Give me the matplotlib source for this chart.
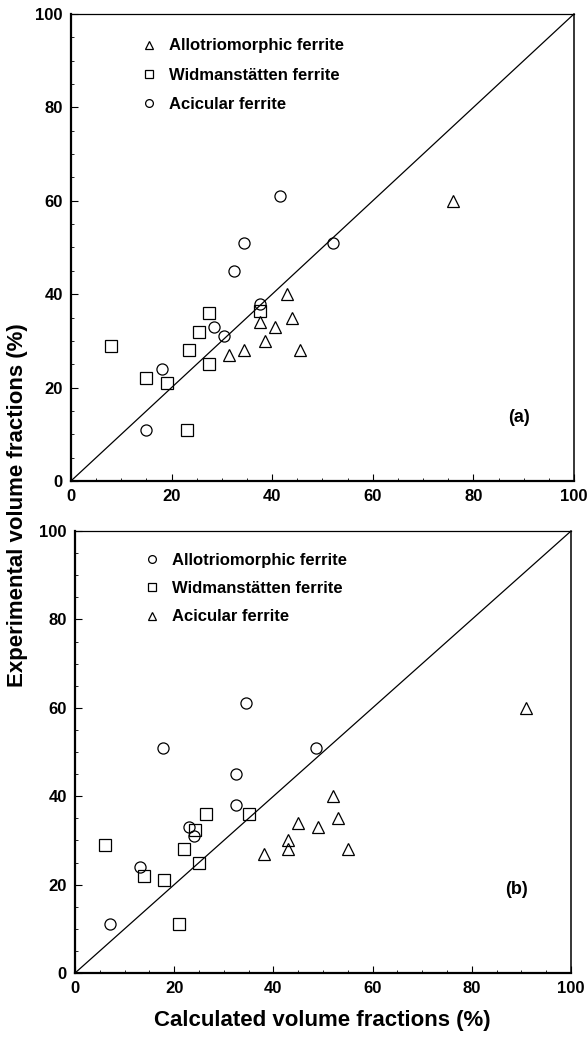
import matplotlib.pyplot as plt
from matplotlib.ticker import MultipleLocator

plt.rcParams['font.family'] = ['Liberation Sans', 'DejaVu Sans']
plt.rcParams['font.weight'] = 'bold'

# ---- panel (a) ----
a_allo_x = [76, 43, 44, 37.5, 40.5, 38.5, 34.5, 31.5, 45.5]
a_allo_y = [60, 40, 35, 34, 33, 30, 28, 27, 28]
a_widm_x = [8, 27.5, 37.5, 25.5, 23.5, 27.5, 15, 19, 23]
a_widm_y = [29, 36, 36.3, 32, 28, 25, 22, 21, 11]
a_acic_x = [41.5, 34.5, 52, 32.5, 37.5, 28.5, 30.5, 18, 15]
a_acic_y = [61, 51, 51, 45, 38, 33, 31, 24, 11]

# ---- panel (b) ----
b_allo_x = [34.5, 17.8, 48.5, 32.5, 32.5, 23, 24, 13, 7]
b_allo_y = [61, 51, 51, 45, 38, 33, 31, 24, 11]
b_widm_x = [6, 26.5, 35, 22, 25, 14, 18, 21, 24.2]
b_widm_y = [29, 36, 36, 28, 25, 22, 21, 11, 32.3]
b_acic_x = [91, 52, 53, 45, 49, 43, 43, 55, 38]
b_acic_y = [60, 40, 35, 34, 33, 30, 28, 28, 27]

diag = [0, 100]
ticks = [0, 20, 40, 60, 80, 100]

mk = dict(linestyle='none', markerfacecolor='none', markeredgecolor='black',
          markeredgewidth=0.9, markersize=8)
leg = dict(loc='upper left', frameon=False, markerscale=0.7, handlelength=1.2,
           handletextpad=0.6, prop=dict(size=12, weight='bold'))


def setup_axes(ax):
    ax.set_xlim(0, 100)
    ax.set_ylim(0, 100)
    ax.set_xticks(ticks)
    ax.set_yticks(ticks)
    ax.xaxis.set_minor_locator(MultipleLocator(5))
    ax.yaxis.set_minor_locator(MultipleLocator(5))
    ax.tick_params(which='major', direction='in', length=5, width=0.8,
                   labelsize=12, pad=6, top=False, right=False)
    ax.tick_params(which='minor', direction='in', length=2, width=0.6,
                   top=False, right=False)
    for lab in ax.get_xticklabels() + ax.get_yticklabels():
        lab.set_fontweight('bold')
    ax.spines['left'].set_linewidth(1.6)
    ax.spines['bottom'].set_linewidth(1.6)
    ax.spines['top'].set_linewidth(0.9)
    ax.spines['right'].set_linewidth(1.1)
    ax.plot(diag, diag, 'k-', lw=0.9)


fig = plt.figure(figsize=(5.88, 10.37), dpi=100)
ax1 = fig.add_axes([0.1207, 0.5362, 0.8554, 0.4503])
ax2 = fig.add_axes([0.1276, 0.0617, 0.8435, 0.4262])

############### panel (a) ###############
setup_axes(ax1)
ax1.plot(a_allo_x, a_allo_y, marker='^', label='Allotriomorphic ferrite', **mk)
ax1.plot(a_widm_x, a_widm_y, marker='s', label='Widmanstätten ferrite', **mk)
ax1.plot(a_acic_x, a_acic_y, marker='o', label='Acicular ferrite', **mk)
ax1.legend(bbox_to_anchor=(0.105, 0.98), labelspacing=0.85, **leg)
ax1.text(0.89, 0.135, '(a)', transform=ax1.transAxes, ha='center',
         va='center', fontsize=13, fontweight='bold')

############### panel (b) ###############
setup_axes(ax2)
ax2.plot(b_allo_x, b_allo_y, marker='o', label='Allotriomorphic ferrite', **mk)
ax2.plot(b_widm_x, b_widm_y, marker='s', label='Widmanstätten ferrite', **mk)
ax2.plot(b_acic_x, b_acic_y, marker='^', label='Acicular ferrite', **mk)
ax2.legend(bbox_to_anchor=(0.105, 0.985), labelspacing=0.8, **leg)
ax2.text(0.89, 0.19, '(b)', transform=ax2.transAxes, ha='center',
         va='center', fontsize=13, fontweight='bold')

fig.text(0.029, 0.513, 'Experimental volume fractions (%)', rotation='vertical',
         ha='center', va='center', fontsize=16, fontweight='bold')
fig.text(0.548, 0.006, 'Calculated volume fractions (%)', ha='center',
         va='bottom', fontsize=16, fontweight='bold')

plt.savefig('out.png', dpi=100)
